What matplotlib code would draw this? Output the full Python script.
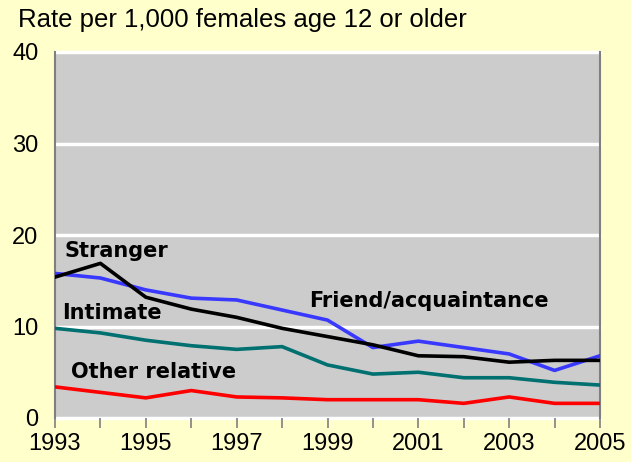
import matplotlib
matplotlib.use("Agg")
import matplotlib.pyplot as plt
from matplotlib import font_manager

# Data (rate per 1,000 females age 12+)
years = [1993, 1994, 1995, 1996, 1997, 1998, 1999, 2000, 2001, 2002, 2003, 2004, 2005]
stranger = [15.4, 16.9, 13.2, 11.9, 11.0, 9.8, 8.9, 8.0, 6.8, 6.7, 6.1, 6.3, 6.3]
friend = [15.8, 15.3, 14.0, 13.1, 12.9, 11.8, 10.7, 7.7, 8.4, 7.7, 7.0, 5.2, 6.8]
intimate = [9.8, 9.3, 8.5, 7.9, 7.5, 7.8, 5.8, 4.8, 5.0, 4.4, 4.4, 3.9, 3.6]
other_rel = [3.4, 2.8, 2.2, 3.0, 2.3, 2.2, 2.0, 2.0, 2.0, 1.6, 2.3, 1.6, 1.6]
yticks = [0, 10, 20, 30, 40]
xlabels = [1993, 1995, 1997, 1999, 2001, 2003, 2005]

BG = "#FFFFCC"
PLOT = "#CCCCCC"
EDGE = "#7F7F7F"

names = {f.name for f in font_manager.fontManager.ttflist}
FONT = "Liberation Sans Narrow" if "Liberation Sans Narrow" in names else "Liberation Sans"

fig = plt.figure(figsize=(6.31, 4.62), dpi=100)
fig.patch.set_facecolor(BG)
ax = fig.add_axes([55 / 631, 44 / 462, 545 / 631, 366 / 462])
ax.set_facecolor(PLOT)

ax.set_xlim(1993, 2005)
ax.set_ylim(0, 40)

# white gridlines
for v in yticks:
    ax.axhline(v, color="white", lw=2.5, zorder=1, clip_on=False)

ax.plot(years, other_rel, color="#FF0000", lw=2.6, zorder=3)
ax.plot(years, intimate, color="#007070", lw=2.6, zorder=3)
ax.plot(years, friend, color="#3838FF", lw=2.6, zorder=3)
ax.plot(years, stranger, color="#000000", lw=2.6, zorder=4)

for s in ["top", "bottom"]:
    ax.spines[s].set_visible(False)
for s in ["left", "right"]:
    ax.spines[s].set_color(EDGE)
    ax.spines[s].set_linewidth(1.5)

ax.set_yticks(yticks)
ax.set_yticklabels([str(v) for v in yticks], fontsize=17, family=FONT)
ax.tick_params(axis="y", length=0, pad=12)
ax.set_xticks(years)
ax.set_xticklabels([str(y) if y in xlabels else "" for y in years], fontsize=17, family=FONT)
ax.tick_params(axis="x", length=7, color=EDGE, width=1.2, pad=4, direction="out")

bold = dict(fontsize=15, fontweight="bold", family="DejaVu Sans", color="black", zorder=5)
ax.text(1993.22, 18.2, "Stranger", va="center", ha="left", **bold)
ax.text(1993.15, 11.5, "Intimate", va="center", ha="left", **bold)
ax.text(1993.35, 5.0, "Other relative", va="center", ha="left", **bold)
ax.text(1998.6, 12.8, "Friend/acquaintance", va="center", ha="left", **bold)

fig.text(18 / 631, 1 - 20 / 462, "Rate per 1,000 females age 12 or older",
         fontsize=18.5, family=FONT, ha="left", va="center")

fig.savefig("out.png", facecolor=BG)
